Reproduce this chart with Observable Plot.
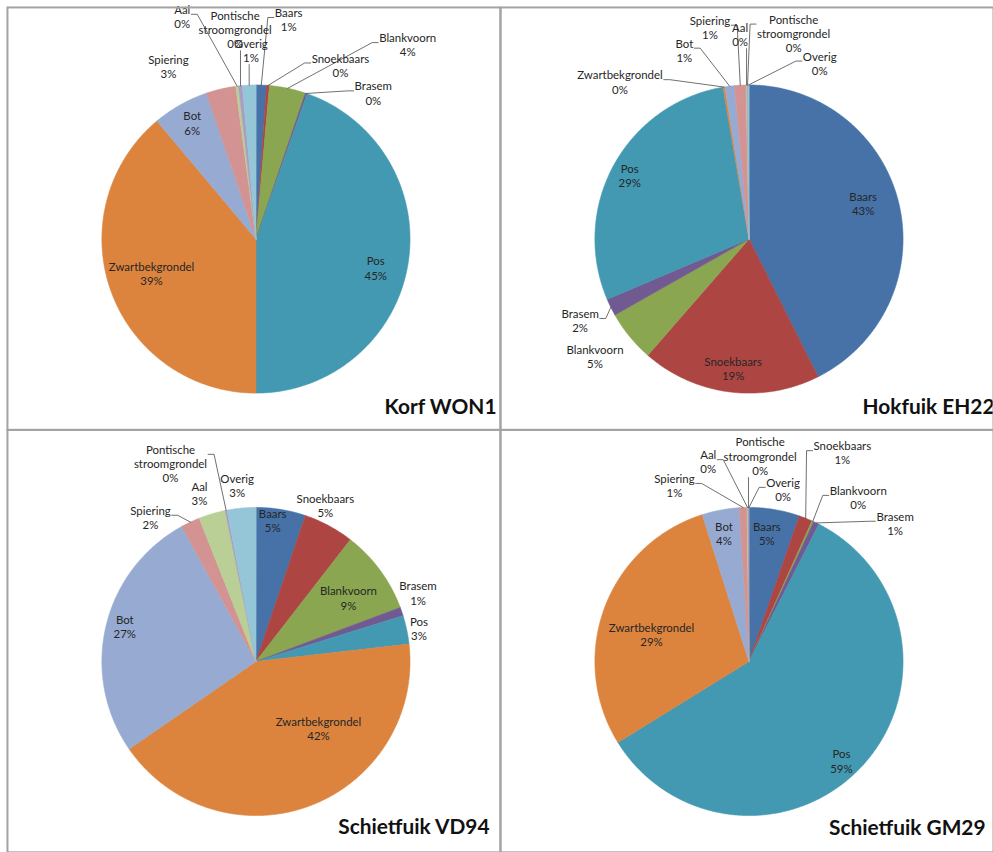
<!DOCTYPE html>
<html>
<head>
<meta charset="utf-8">
<script src="https://cdn.jsdelivr.net/npm/d3@7"></script>
<script src="https://cdn.jsdelivr.net/npm/@observablehq/plot@0.6"></script>
<style>
  html, body { margin: 0; padding: 0; background: #fff; overflow: hidden; }
</style>
</head>
<body>
<div id="chart"></div>
<script>
// Species, in the clockwise order the slices are drawn (starting at 12 o'clock)
const species = ["Baars", "Snoekbaars", "Blankvoorn", "Brasem", "Pos", "Zwartbekgrondel",
  "Bot", "Spiering", "Aal", "Pontische stroomgrondel", "Overig"];
const speciesColors = ["#4672a8", "#ad4643", "#8aa650", "#715a92", "#4399b1", "#dc843e",
  "#97abd2", "#d39392", "#bacf96", "#aa9dc1", "#94c6d8"];

// Catch composition per fishing gear / station (percent of individuals)
const stations = ["Korf WON1", "Hokfuik EH22", "Schietfuik VD94", "Schietfuik GM29"];
const korfWON1       = [1.1, 0.3, 3.8, 0.2, 44.6, 38.9, 5.9, 3.1, 0.3, 0.4, 1.4];
const hokfuikEH22    = [42.6, 18.8, 5.4, 1.8, 28.7, 0.2, 1.0, 1.2, 0.1, 0.1, 0.1];
const schietfuikVD94 = [5.2, 5.3, 8.8, 0.9, 3.0, 42.2, 26.6, 2.0, 2.8, 0.2, 3.0];
const schietfuikGM29 = [5.3, 1.4, 0.2, 0.6, 58.7, 28.9, 3.9, 0.8, 0.1, 0.1, 0.0];
const stationValues = [korfWON1, hokfuikEH22, schietfuikVD94, schietfuikGM29];

// Data-label placement: [distance from centre in radii, angular nudge from slice middle (deg), leader line]
const labelLayout = [
  [[1.44, 6.5, 1], [1.255, 21.4, 1], [1.60, 26.1, 1], [1.216, 19.7, 1], [0.80, 3.8, 0], [0.714, 1.6, 0],
   [0.86, 0.6, 0], [1.258, -13.7, 0], [1.522, -11.3, 1], [1.368, 0.1, 1], [1.226, 1.0, 1]],
  [[0.777, -4.1, 0], [0.845, -0.2, 0], [1.257, 1.9, 0], [1.217, 0.5, 1], [0.877, -0.5, 0], [1.32, -30.0, 1],
   [1.295, -11.7, 1], [1.397, -7.2, 1], [1.33, -1.6, 1], [1.366, 12.8, 1], [1.23, 22.1, 1]],
  [[0.923, -2.6, 0], [1.109, -4.3, 0], [0.728, 1.9, 0], [1.142, -4.0, 0], [1.079, 0.5, 0], [0.593, -22.7, 0],
   [0.881, 1.6, 0], [1.159, -11.0, 1], [1.151, -2.0, 0], [1.399, -12.2, 1], [1.148, -0.7, 0]],
  [[0.84, -1.6, 0], [1.484, 2.5, 1], [1.279, 9.2, 1], [1.305, 20.7, 1], [0.881, 4.4, 0], [0.656, -4.9, 0],
   [0.848, -0.4, 0], [1.24, -20.8, 1], [1.323, -11.0, 1], [1.335, 3.3, 1], [1.138, 11.2, 1]]
];
// Station title nudges from the bottom-right corner of each panel [dx, dy]
const titleNudge = [[-4, -23], [1, -23], [-11, -25], [-8, -24]];

// Panel geometry
const R = 155;                 // pie radius in pixels
const LABEL_FONT = "Lato, 'Liberation Sans', sans-serif";
const LABEL_SIZE = 11.5;
const LINE_H = 1.25;

const measure = document.createElement("canvas").getContext("2d");
measure.font = `${LABEL_SIZE}px ${LABEL_FONT}`;

const rad = (deg) => deg * Math.PI / 180;
const slicePts = [], labels = [], leaders = [];

stationValues.forEach((vals, si) => {
  const col = si % 2, row = Math.floor(si / 2);
  const total = d3.sum(vals);
  let cum = 0;
  vals.forEach((v, k) => {
    const a0 = cum / total * 360;
    cum += v;
    const a1 = cum / total * 360;
    const mid = (a0 + a1) / 2;
    const key = `${si}-${k}`;
    if (v > 0) {
      slicePts.push({key, col, row, sp: species[k], x: 0, y: 0});
      const n = Math.max(2, Math.ceil((a1 - a0) / 0.5));
      for (let i = 0; i <= n; i++) {
        const a = rad(a0 + (a1 - a0) * i / n);
        slicePts.push({key, col, row, sp: species[k], x: Math.sin(a), y: Math.cos(a)});
      }
    }
    const [rf, da, lead] = labelLayout[si][k];
    const th = rad(mid + da);
    const lx = rf * Math.sin(th), ly = rf * Math.cos(th);
    const text = `${species[k].replace(" ", "\n")}\n${Math.round(v)}%`;
    labels.push({col, row, text, x: lx, y: ly});
    if (lead) {
      // leader from the slice rim to the nearest side of the label block (pixels, y down)
      const lines = text.split("\n");
      const w = d3.max(lines, (s) => measure.measureText(s).width);
      const lh = LABEL_SIZE * LINE_H;
      const h = lines.length * lh;
      const cx = lx * R, cy = -ly * R;
      const rx = Math.sin(rad(mid)) * R, ry = -Math.cos(rad(mid)) * R;
      let pts;
      const yStub = cy - h / 2 + lh * 0.85;
      if (rx < cx - w / 2 - 2) {
        const ax = cx - w / 2 - 1;
        pts = [[rx, ry], [ax - 6, yStub], [ax, yStub]];
      } else if (rx > cx + w / 2 + 2) {
        const ax = cx + w / 2 + 1;
        pts = [[rx, ry], [ax + 6, yStub], [ax, yStub]];
      } else {
        const ax = Math.max(cx - w / 2, Math.min(cx + w / 2, rx));
        const ay = ry > cy ? cy + h / 2 : cy - h / 2;
        pts = [[rx, ry], [ax, ay]];
      }
      pts.forEach(([px, py]) => leaders.push({key, col, row, x: px / R, y: -py / R}));
    }
  });
});

const titles = stations.map((name, si) => ({name, col: si % 2, row: Math.floor(si / 2)}));

const chart = Plot.plot({
  width: 999,
  height: 857,
  marginLeft: 7,
  marginTop: 7,
  marginRight: 0,
  marginBottom: 0,
  x: {domain: [-250 / R, 246 / R], axis: null},
  y: {domain: [-192 / R, 233 / R], axis: null},
  fx: {domain: [0, 1], padding: 0, axis: null},
  fy: {domain: [0, 1], padding: 0, axis: null},
  color: {domain: species, range: speciesColors},
  style: {fontFamily: LABEL_FONT, background: "#fff"},
  marks: [
    Plot.line(slicePts, {x: "x", y: "y", z: "key", fx: "col", fy: "row",
      fill: "sp", stroke: "sp", strokeWidth: 0.6, curve: "linear-closed"}),
    Plot.line(leaders, {x: "x", y: "y", z: "key", fx: "col", fy: "row",
      stroke: "#4a4a4a", strokeWidth: 0.8}),
    Plot.text(labels, {x: "x", y: "y", fx: "col", fy: "row", text: "text",
      fontSize: LABEL_SIZE, lineHeight: LINE_H, fill: "#262626"}),
    ...titles.map((t, i) => Plot.text([t], {fx: "col", fy: "row", text: "name",
      frameAnchor: "bottom-right", lineAnchor: "middle", textAnchor: "end",
      dx: titleNudge[i][0], dy: titleNudge[i][1],
      fontSize: 21, fontWeight: "bold", fill: "#111"})),
    Plot.frame({stroke: "#a3a3a3", strokeWidth: 2})
  ]
});

document.getElementById("chart").appendChild(chart);
</script>
</body>
</html>
